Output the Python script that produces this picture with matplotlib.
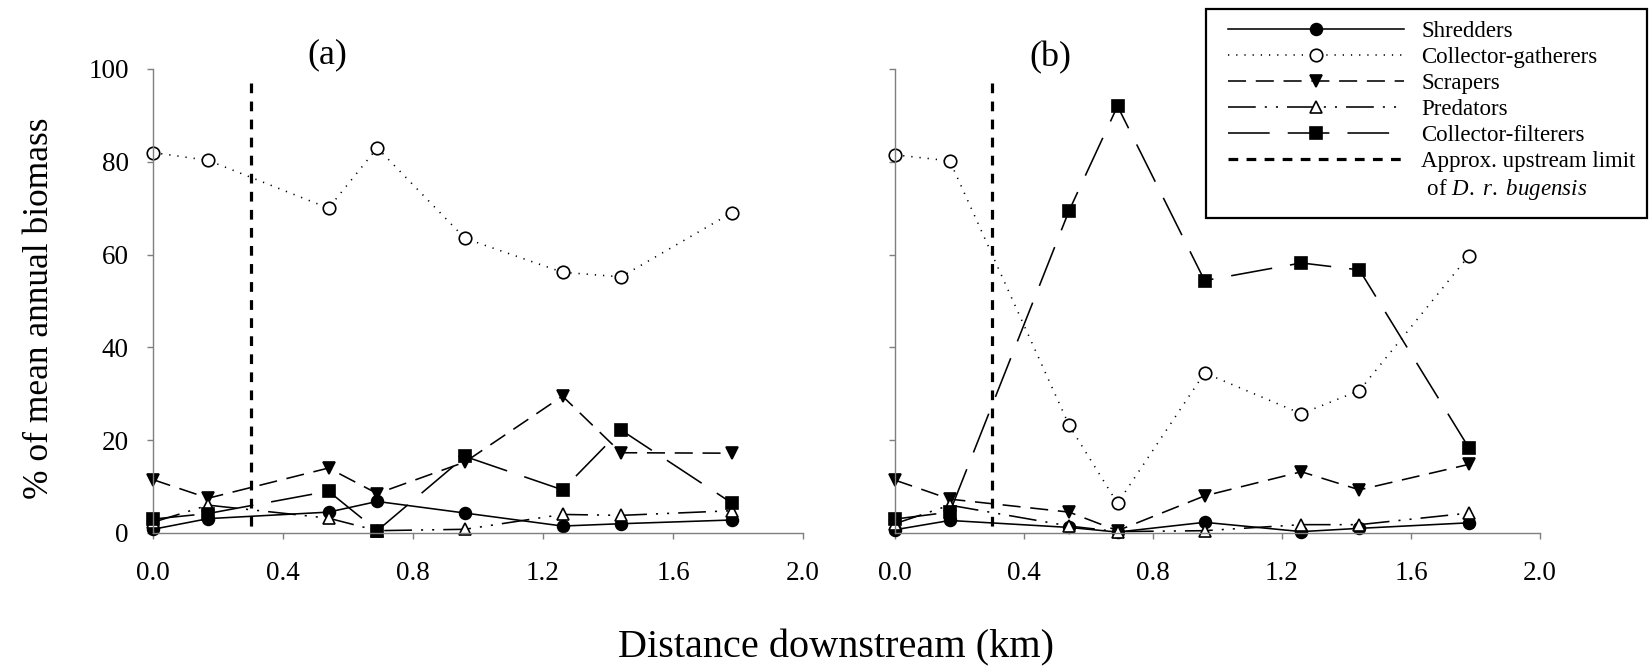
import numpy as np
import matplotlib
matplotlib.use("Agg")
import matplotlib.pyplot as plt
from matplotlib.lines import Line2D
from matplotlib.patches import Rectangle

plt.rcParams['font.family'] = ['Liberation Serif', 'DejaVu Serif']
plt.rcParams['mathtext.fontset'] = 'custom'
plt.rcParams['mathtext.rm'] = 'Liberation Serif'
plt.rcParams['mathtext.it'] = 'Liberation Serif:italic'
plt.rcParams['lines.scale_dashes'] = False

# distance downstream (km) of the sampling sites
dist = [0.0, 0.17, 0.54, 0.69, 0.96, 1.26, 1.44, 1.78]
limit_km = 0.3

# panel (a)
shredders_a = [0.8, 3.1, 4.5, 6.8, 4.3, 1.5, 2.0, 2.8]
gatherers_a = [82.0, 80.3, 70.0, 83.0, 63.5, 56.2, 55.2, 69.0]
scrapers_a = [11.5, 7.5, 14.0, 8.5, 15.3, 29.5, 17.3, 17.2]
predators_a = [2.3, 6.0, 3.2, 0.5, 0.8, 4.0, 3.8, 4.8]
filterers_a = [3.0, 4.2, 9.0, 0.5, 16.5, 9.3, 22.2, 6.5]

# panel (b)
shredders_b = [0.7, 2.7, 1.2, 0.2, 2.3, 0.3, 1.0, 2.2]
gatherers_b = [81.5, 80.2, 23.2, 6.4, 34.5, 25.7, 30.7, 59.8]
scrapers_b = [11.4, 7.3, 4.5, 0.5, 8.0, 13.2, 9.3, 14.8]
predators_b = [2.0, 6.0, 1.5, 0.3, 0.5, 1.8, 1.8, 4.3]
filterers_b = [3.0, 4.5, 69.5, 92.0, 54.4, 58.2, 56.7, 18.3]

names = ['Shredders', 'Collector-gatherers', 'Scrapers', 'Predators', 'Collector-filterers']

W, H = 1650, 666
fig = plt.figure(figsize=(W / 100, H / 100), dpi=100)

def fx(px):
    return px / W

def fy(py):
    return 1 - py / H

styles = [
    dict(ls='-', marker='o', mfc='black', ms=8.5),
    dict(ls=(0, (0.9, 5)), marker='o', mfc='white', ms=9),
    dict(ls=(0, (13, 7)), marker='v', mfc='black', ms=9),
    dict(ls=(0, (20, 6.5, 1.5, 6.5, 1.5, 6.5)), marker='^', mfc='white', ms=9),
    dict(ls=(0, (30, 13)), marker='s', mfc='black', ms=8.5),
]

gray = '#7f7f7f'
axes = []
for left, right, series, lab in [
        (153, 803, [shredders_a, gatherers_a, scrapers_a, predators_a, filterers_a], True),
        (895, 1540, [shredders_b, gatherers_b, scrapers_b, predators_b, filterers_b], False)]:
    ax = fig.add_axes([fx(left), fy(533), fx(right) - fx(left), fy(69) - fy(533)])
    for vals, st in zip(series, styles):
        ax.plot(dist, vals, color='black', lw=1.15, mec='black', mew=1.2,
                clip_on=False, **st)
    ax.plot([limit_km, limit_km], [97, 0], color='black', lw=2.3,
            ls=(0, (7, 6)), clip_on=False, zorder=1)
    ax.set_xlim(0, 2.0)
    ax.set_ylim(0, 100)
    ax.set_xticks(np.arange(0, 2.01, 0.4))
    ax.set_xticklabels(['%.1f' % v for v in np.arange(0, 2.01, 0.4)])
    ax.set_yticks(np.arange(0, 101, 20))
    if not lab:
        ax.set_yticklabels([])
    for s in ['top', 'right']:
        ax.spines[s].set_visible(False)
    for s in ['left', 'bottom']:
        ax.spines[s].set_color(gray)
        ax.spines[s].set_linewidth(1.0)
    ax.tick_params(axis='both', direction='out', length=4.5, width=1.0,
                   color=gray, labelsize=19.5)
    ax.tick_params(axis='x', pad=16)
    ax.tick_params(axis='y', pad=13)
    ax.patch.set_visible(False)
    axes.append(ax)

fig.text(fx(327), fy(55), '(a)', fontsize=26, ha='center', va='center')
fig.text(fx(1050), fy(58), '(b)', fontsize=26, ha='center', va='center')

fig.text(fx(618), fy(657), 'Distance downstream (km)', fontsize=29,
         ha='left', va='baseline')
fig.text(fx(40), fy(308), '% of mean annual biomass', fontsize=25.5,
         rotation=90, ha='center', va='center')

# legend
handles = []
for nm, st in zip(names, styles):
    handles.append(Line2D([], [], color='black', lw=1.15, mec='black', mew=1.2,
                          label=nm, **st))
handles.append(Line2D([], [], color='black', lw=2.3, ls=(0, (7, 6)),
                      label='Approx. upstream limit'))
handles.append(Line2D([], [], ls='none', label=r' of $\mathit{D.\ r.\ bugensis}$'))

fig.patches.append(Rectangle((fx(1206), fy(218)), fx(1647) - fx(1206), fy(9) - fy(218),
                             transform=fig.transFigure, fill=False,
                             edgecolor='black', lw=1.6))
fig.legend(handles=handles, loc='upper left',
           bbox_to_anchor=(fx(1228), fy(21)), bbox_transform=fig.transFigure,
           frameon=False, fontsize=16.5, handlelength=7.7, handletextpad=0.74,
           labelspacing=0.22, borderpad=0, borderaxespad=0, numpoints=1,
           handleheight=0.7)

fig.savefig('out.png', dpi=100)
